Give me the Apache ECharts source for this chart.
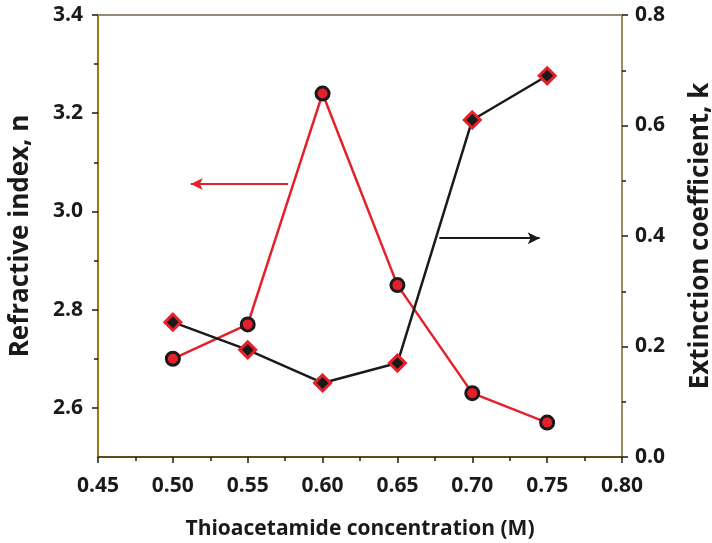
<!DOCTYPE html>
<html>
<head>
<meta charset="utf-8">
<script src="https://cdn.jsdelivr.net/npm/echarts@6/dist/echarts.min.js"></script>
<style>
  html, body { margin: 0; padding: 0; background: #fff; }
  #chart { width: 712px; height: 543px; }
</style>
</head>
<body>
<div id="chart"></div>
<script>
// Thioacetamide concentration (M)
const concentration = [0.50, 0.55, 0.60, 0.65, 0.70, 0.75];
// Refractive index n (left axis)
const refractiveIndex = [2.70, 2.77, 3.24, 2.85, 2.63, 2.57];
// Extinction coefficient k (right axis)
const extinctionCoeff = [0.244, 0.194, 0.134, 0.170, 0.610, 0.690];

// Tick values
const nMajorTicks = [2.6, 2.8, 3.0, 3.2, 3.4];
const nMinorTicks = [2.7, 2.9, 3.1, 3.3];

// Arrows pointing each curve to its axis
const nArrow = { from: [0.577, 3.056], to: [0.512, 3.056] };
const kArrow = { from: [0.678, 0.396], to: [0.745, 0.396] };

const FONT = '"Open Sans", "Noto Sans", sans-serif';
const RED = '#e5202a';
const BLACK = '#1a1a1a';

const labelStyle = { fontFamily: FONT, fontWeight: 'bold', fontSize: 21, color: '#1a1a1a' };
const xNameStyle = { fontFamily: FONT, fontWeight: 'bold', fontSize: 21, color: '#1a1a1a' };
const yNameStyle = { fontFamily: FONT, fontWeight: 'bold', fontSize: 26, color: '#1a1a1a' };

const chart = echarts.init(document.getElementById('chart'), null, { renderer: 'canvas' });

chart.setOption({
  animation: false,
  backgroundColor: '#ffffff',
  grid: { left: 98, right: 90, top: 15, bottom: 86, containLabel: false, outerBoundsMode: 'none' },
  xAxis: [
    {
      type: 'value',
      position: 'bottom',
      min: 0.45, max: 0.80, interval: 0.05,
      name: 'Thioacetamide concentration (M)',
      nameLocation: 'middle',
      nameGap: 62,
      nameTextStyle: xNameStyle,
      axisLine: { show: true, onZero: false, lineStyle: { color: '#5e4c12', width: 2 } },
      axisTick: { show: true, inside: false, length: 6, lineStyle: { color: '#1a1a1a', width: 1.5 } },
      minorTick: { show: true, splitNumber: 2, length: 4, lineStyle: { color: '#1a1a1a', width: 1.5 } },
      axisLabel: Object.assign({ margin: 19, formatter: v => v.toFixed(2) }, labelStyle),
      splitLine: { show: false }
    },
    {
      type: 'value',
      position: 'top',
      min: 0.45, max: 0.80,
      axisLine: { show: true, onZero: false, lineStyle: { color: '#958b74', width: 2 } },
      axisTick: { show: false },
      axisLabel: { show: false },
      splitLine: { show: false }
    }
  ],
  yAxis: [
    {
      type: 'value',
      position: 'left',
      min: 2.5, max: 3.4,
      name: 'Refractive index, n',
      nameLocation: 'middle',
      nameRotate: 90,
      nameGap: 64,
      nameTextStyle: yNameStyle,
      axisLine: { show: true, onZero: false, lineStyle: { color: '#9c7a1a', width: 2 } },
      axisTick: { show: true, length: 6, customValues: nMajorTicks, lineStyle: { color: '#1a1a1a', width: 1.5 } },
      axisLabel: Object.assign({ margin: 15, customValues: nMajorTicks, formatter: v => v.toFixed(1) }, labelStyle),
      splitLine: { show: false }
    },
    {
      type: 'value',
      position: 'right',
      min: 0, max: 0.8, interval: 0.2,
      name: 'Extinction coefficient, k',
      nameLocation: 'middle',
      nameRotate: 90,
      nameGap: 66,
      nameTextStyle: yNameStyle,
      axisLine: { show: true, onZero: false, lineStyle: { color: '#9a8a62', width: 2 } },
      axisTick: { show: true, length: 6, lineStyle: { color: '#1a1a1a', width: 1.5 } },
      minorTick: { show: true, splitNumber: 2, length: 4, lineStyle: { color: '#1a1a1a', width: 1.5 } },
      axisLabel: Object.assign({ margin: 13, formatter: v => v.toFixed(1) }, labelStyle),
      splitLine: { show: false }
    },
    {
      // minor ticks for the refractive index axis
      type: 'value',
      position: 'left',
      min: 2.5, max: 3.4,
      axisLine: { show: false },
      axisTick: { show: true, length: 4, customValues: nMinorTicks, lineStyle: { color: '#1a1a1a', width: 1.5 } },
      axisLabel: { show: false, customValues: nMinorTicks },
      splitLine: { show: false }
    }
  ],
  series: [
    {
      name: 'n',
      type: 'line',
      xAxisIndex: 0,
      yAxisIndex: 0,
      data: concentration.map((c, i) => [c, refractiveIndex[i]]),
      symbol: 'circle',
      symbolSize: 13,
      lineStyle: { color: RED, width: 2.5 },
      itemStyle: { color: RED, borderColor: BLACK, borderWidth: 3 },
      z: 3,
      markLine: {
        silent: true,
        symbol: ['none', 'arrow'],
        symbolSize: [9, 12],
        label: { show: false },
        lineStyle: { color: RED, width: 2, type: 'solid' },
        data: [[{ coord: nArrow.from }, { coord: nArrow.to }]]
      }
    },
    {
      name: 'k',
      type: 'line',
      xAxisIndex: 0,
      yAxisIndex: 1,
      data: concentration.map((c, i) => [c, extinctionCoeff[i]]),
      symbol: 'diamond',
      symbolSize: 16,
      lineStyle: { color: BLACK, width: 2.5 },
      itemStyle: { color: BLACK, borderColor: RED, borderWidth: 3 },
      z: 4,
      markLine: {
        silent: true,
        symbol: ['none', 'arrow'],
        symbolSize: [9, 12],
        label: { show: false },
        lineStyle: { color: BLACK, width: 2, type: 'solid' },
        data: [[{ coord: kArrow.from }, { coord: kArrow.to }]]
      }
    }
  ]
});
</script>
</body>
</html>
